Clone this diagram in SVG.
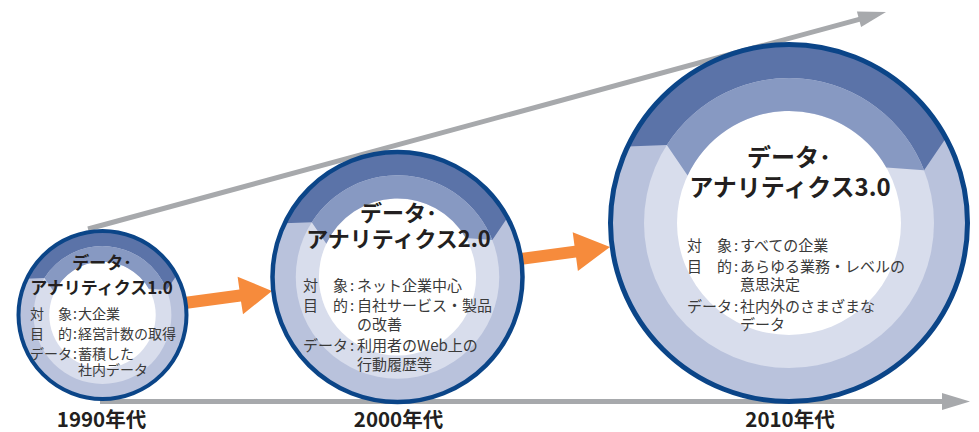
<svg xmlns="http://www.w3.org/2000/svg" xmlns:xlink="http://www.w3.org/1999/xlink" width="979" height="432" viewBox="0 0 979 432">
<style>
.axis{stroke:#a7a9ac;stroke-width:5;fill:none}
.axhead{fill:#a7a9ac}
.flow{fill:#f68b3c}
.edge{fill:none;stroke:#0b4588}
.title{font-family:"Noto Sans CJK JP","Noto Sans",sans-serif;font-weight:700;fill:#231f20;text-anchor:middle}
.body{font-family:"Noto Sans CJK JP","Noto Sans",sans-serif;font-weight:400;fill:#3a3a3a}
.year{font-family:"Noto Sans CJK JP","Noto Sans",sans-serif;font-weight:700;fill:#231f20;text-anchor:middle;font-size:20.5px}
</style>
<defs>
<g id="ring">
<circle r="179" fill="#b9c2dc"/>
<circle r="145" fill="#d8ddec"/>
<circle r="112" fill="#ffffff"/>
<path d="M -161.8 -76.5 A 179 179 0 0 1 157.3 -85.4 L 135.1 -52.7 A 145 145 0 0 0 -122.2 -78.1 Z" fill="#5b73a8"/>
<path d="M -122.2 -78.1 A 145 145 0 0 1 135.1 -52.7 L 97.3 -55.5 A 112 112 0 0 0 -101.4 -47.5 Z" fill="#8799c2"/>
</g>
</defs>
<rect width="979" height="432" fill="#ffffff"/>
<g id="connectors">
<line class="axis" x1="100" y1="401.5" x2="944" y2="401.5"/>
<polygon class="axhead" points="942,393 970,401.5 942,410"/>
<line class="axis" x1="88" y1="229" x2="861" y2="18.8"/>
<polygon class="axhead" points="856.9,11.6 886,12 861.1,27"/>
<polygon class="flow" points="180,297.5 239.4,289.6 237.6,276.7 272,291 243.0,314.3 241.0,301.5 181.7,309.4"/>
<polygon class="flow" points="515,253.7 574.5,245.7 572.7,232.3 610,247 577.9,270.9 576.1,257.5 516.6,265.5"/>
</g>
<g id="node-1990">
<use xlink:href="#ring" href="#ring" transform="translate(102.5,315) scale(0.4751)"/>
<circle class="edge" cx="102.5" cy="315" r="84" stroke-width="4"/>
<text class="title" x="102" y="269" font-size="17">データ･</text>
<text class="title" x="101.5" y="294" font-size="17">アナリティクス1.0</text>
<g class="body" font-size="14">
<text x="30" y="319">対　象</text><text x="73" y="319">:</text><text x="78" y="319">大企業</text>
<text x="30" y="339">目　的</text><text x="73" y="339">:</text><text x="78" y="339">経営計数の取得</text>
<text x="30" y="359">データ</text><text x="73" y="359">:</text><text x="78" y="359">蓄積した</text>
<text x="78" y="375">社内データ</text>
</g>
<text class="year" x="101.5" y="427">1990年代</text>
</g>
<g id="node-2000">
<use xlink:href="#ring" href="#ring" transform="translate(397.5,277) scale(0.7017)"/>
<circle class="edge" cx="397.5" cy="277" r="125" stroke-width="4.5"/>
<text class="title" x="398.5" y="221" font-size="22">データ･</text>
<text class="title" x="398.5" y="247" font-size="22">アナリティクス2.0</text>
<g class="body" font-size="15">
<text x="303" y="291">対　象</text><text x="350" y="291">:</text><text x="357" y="291">ネット企業中心</text>
<text x="303" y="311">目　的</text><text x="350" y="311">:</text><text x="357" y="311">自社サービス・製品</text>
<text x="357" y="330">の改善</text>
<text x="303" y="351">データ</text><text x="350" y="351">:</text><text x="357" y="351">利用者のWeb上の</text>
<text x="357" y="370">行動履歴等</text>
</g>
<text class="year" x="398.5" y="427">2000年代</text>
</g>
<g id="node-2010">
<use xlink:href="#ring" href="#ring" transform="translate(789,223)"/>
<circle class="edge" cx="789" cy="223" r="178.5" stroke-width="5"/>
<text class="title" x="789" y="166" font-size="24">データ･</text>
<text class="title" x="790" y="196" font-size="24">アナリティクス3.0</text>
<g class="body" font-size="15">
<text x="687" y="251">対　象</text><text x="734" y="251">:</text><text x="740" y="251">すべての企業</text>
<text x="687" y="272">目　的</text><text x="734" y="272">:</text><text x="740" y="272">あらゆる業務・レベルの</text>
<text x="740" y="290">意思決定</text>
<text x="687" y="312">データ</text><text x="734" y="312">:</text><text x="740" y="312">社内外のさまざまな</text>
<text x="740" y="330">データ</text>
</g>
<text class="year" x="790" y="427">2010年代</text>
</g>
</svg>
